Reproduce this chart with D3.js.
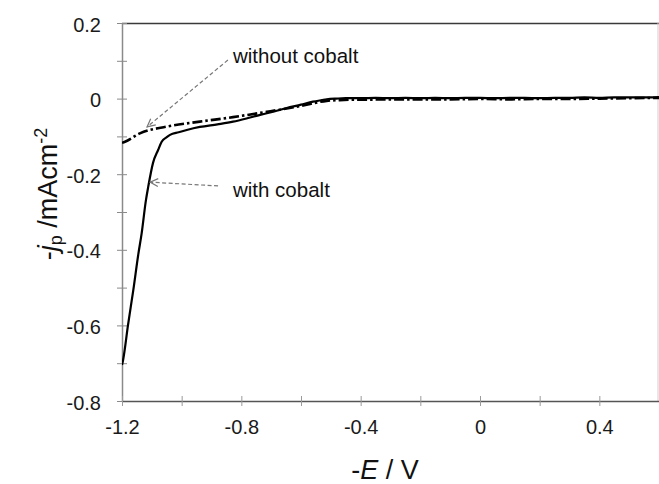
<!DOCTYPE html>
<html>
<head>
<meta charset="utf-8">
<script src="https://cdn.jsdelivr.net/npm/d3@7/dist/d3.min.js"></script>
<style>
  html, body { margin: 0; padding: 0; background: #fff; }
  svg { display: block; font-family: "Liberation Sans", Arial, sans-serif; }
</style>
</head>
<body>
<svg id="chart" width="659" height="484"></svg>
<script>
// Potential (-E / V) and current density (-j_p / mA cm^-2)
const withCobaltE = [-1.2, -1.196, -1.18, -1.162, -1.145, -1.134, -1.12, -1.112, -1.096, -1.079,
  -1.067, -1.05, -1.039, -1.01, -0.983, -0.939, -0.88, -0.828, -0.78, -0.737, -0.69, -0.648,
  -0.6, -0.56, -0.53, -0.514, -0.48, -0.45, -0.426, -0.4, -0.35, -0.3, -0.25, -0.2, -0.15,
  -0.1, -0.05, 0, 0.05, 0.1, 0.15, 0.2, 0.25, 0.3, 0.35, 0.4, 0.45, 0.5, 0.55, 0.6];
const withCobaltJ = [-0.705, -0.69, -0.6, -0.506, -0.41, -0.356, -0.27, -0.233, -0.17, -0.136,
  -0.114, -0.102, -0.096, -0.089, -0.083, -0.075, -0.068, -0.061, -0.052, -0.043, -0.034, -0.025,
  -0.016, -0.008, -0.004, -0.002, 0.0, 0.001, 0.001, 0.001, 0.002, 0.001, 0.002, 0.001, 0.002,
  0.001, 0.002, 0.002, 0.001, 0.002, 0.002, 0.001, 0.002, 0.002, 0.003, 0.002, 0.003, 0.003, 0.003, 0.004];

const withoutCobaltE = [-1.2, -1.19, -1.14, -1.05, -0.939, -0.828, -0.715, -0.603, -0.514, -0.47,
  -0.426, -0.4, -0.3, -0.2, -0.1, 0, 0.1, 0.2, 0.3, 0.4, 0.5, 0.6];
const withoutCobaltJ = [-0.117, -0.114, -0.092, -0.074, -0.061, -0.049, -0.035, -0.02, -0.006, -0.004,
  -0.003, -0.003, -0.002, -0.002, -0.002, -0.001, -0.002, -0.001, -0.001, 0.0, 0.001, 0.002];

// Axis ticks and labels
const xTicks = [-1.2, -1.0, -0.8, -0.6, -0.4, -0.2, 0, 0.2, 0.4, 0.6];
const xLabels = { "-1.2": "-1.2", "-0.8": "-0.8", "-0.4": "-0.4", "0": "0", "0.4": "0.4" };
const yTicks = [0.2, 0.1, 0, -0.1, -0.2, -0.3, -0.4, -0.5, -0.6, -0.7, -0.8];
const yLabels = { "0.2": "0.2", "0": "0", "-0.2": "-0.2", "-0.4": "-0.4", "-0.6": "-0.6", "-0.8": "-0.8" };

// Callout annotations: text anchor, arrow tail and arrow tip (data units)
const callouts = [
  { text: "without cobalt", tx: -0.828, ty: 0.094, x1: -0.845, y1: 0.102, x2: -1.116, y2: -0.075 },
  { text: "with cobalt", tx: -0.828, ty: -0.26, x1: -0.878, y1: -0.231, x2: -1.106, y2: -0.221 }
];

const svg = d3.select("#chart");
const plotLeft = 122, plotRight = 659, plotTop = 23, plotBottom = 401;
const x = d3.scaleLinear().domain([-1.2, 0.6]).range([plotLeft, plotRight]);
const y = d3.scaleLinear().domain([-0.8, 0.2]).range([plotBottom, plotTop]);

const keyOf = v => { const r = Math.round(v * 10) / 10; return r === 0 ? "0" : String(r); };

// Plot frame (top and right)
svg.append("line").attr("x1", plotLeft).attr("x2", plotRight).attr("y1", plotTop + 0.5).attr("y2", plotTop + 0.5)
  .attr("stroke", "#3a3a3a").attr("stroke-width", 1.5);
svg.append("line").attr("x1", plotRight - 1).attr("x2", plotRight - 1).attr("y1", plotTop).attr("y2", plotBottom)
  .attr("stroke", "#cfcfcf").attr("stroke-width", 1);

// Y axis
const yAxis = d3.axisLeft(y).tickValues(yTicks).tickSize(0).tickPadding(21)
  .tickFormat(v => yLabels[keyOf(v)] || "");
const gy = svg.append("g").attr("transform", `translate(${plotLeft},0)`).call(yAxis);
gy.select(".domain").attr("stroke", "#8a8a8a").attr("stroke-width", 1.5);
gy.selectAll(".tick line").attr("x1", -5).attr("x2", 5).attr("stroke", "#8a8a8a").attr("stroke-width", 1);
gy.selectAll(".tick text").attr("font-size", 20).attr("fill", "#1a1a1a")
  .attr("font-family", "Liberation Sans, Arial, sans-serif").attr("dy", "0.4em");

// X axis
const xAxis = d3.axisBottom(x).tickValues(xTicks).tickSize(0).tickPadding(19)
  .tickFormat(v => xLabels[keyOf(v)] || "");
const gx = svg.append("g").attr("transform", `translate(0,${plotBottom})`).call(xAxis);
gx.select(".domain").attr("stroke", "#555").attr("stroke-width", 1.5);
gx.selectAll(".tick line").attr("y1", -5).attr("y2", 5).attr("stroke", "#9a9a9a").attr("stroke-width", 1);
gx.selectAll(".tick text").attr("font-size", 20).attr("fill", "#1a1a1a")
  .attr("font-family", "Liberation Sans, Arial, sans-serif");

// Curves
const line = d3.line().x(d => x(d[0])).y(d => y(d[1])).curve(d3.curveMonotoneX);
svg.append("clipPath").attr("id", "plotClip").append("rect")
  .attr("x", plotLeft).attr("y", plotTop).attr("width", plotRight - plotLeft).attr("height", plotBottom - plotTop);

svg.append("path")
  .datum(withoutCobaltE.map((e, i) => [e, withoutCobaltJ[i]]))
  .attr("d", line).attr("fill", "none").attr("stroke", "#000").attr("stroke-width", 2.6)
  .attr("stroke-dasharray", "10,3,2.5,3").attr("clip-path", "url(#plotClip)");

svg.append("path")
  .datum(withCobaltE.map((e, i) => [e, withCobaltJ[i]]))
  .attr("d", line).attr("fill", "none").attr("stroke", "#000").attr("stroke-width", 2.2)
  .attr("clip-path", "url(#plotClip)");

// Callouts
const defs = svg.append("defs");
defs.append("marker").attr("id", "openArrow").attr("viewBox", "0 0 10 10")
  .attr("refX", 9).attr("refY", 5).attr("markerWidth", 10).attr("markerHeight", 10)
  .attr("markerUnits", "userSpaceOnUse").attr("orient", "auto")
  .append("path").attr("d", "M1,1 L9,5 L1,9").attr("fill", "none")
  .attr("stroke", "#777").attr("stroke-width", 1.2);

callouts.forEach(c => {
  svg.append("line").attr("x1", x(c.x1)).attr("y1", y(c.y1)).attr("x2", x(c.x2)).attr("y2", y(c.y2))
    .attr("stroke", "#777").attr("stroke-width", 1.2).attr("stroke-dasharray", "4,2.5")
    .attr("marker-end", "url(#openArrow)");
  svg.append("text").attr("x", x(c.tx)).attr("y", y(c.ty)).attr("font-size", 20.5)
    .attr("fill", "#111").text(c.text);
});

// Axis titles
const xt = svg.append("text").attr("x", 385).attr("y", 479).attr("text-anchor", "middle")
  .attr("font-size", 27).attr("fill", "#111");
xt.append("tspan").text("-");
xt.append("tspan").attr("font-style", "italic").text("E");
xt.append("tspan").text(" / V");

const yt = svg.append("text").attr("transform", "translate(57,194) rotate(-90)")
  .attr("text-anchor", "middle").attr("font-size", 27).attr("fill", "#111");
yt.append("tspan").text("-");
yt.append("tspan").attr("font-style", "italic").text("j");
yt.append("tspan").attr("font-size", 18).attr("dy", 5).text("p");
yt.append("tspan").attr("dy", -5).text(" /mAcm");
yt.append("tspan").attr("font-size", 18).attr("dy", -10).text("-2");
</script>
</body>
</html>
